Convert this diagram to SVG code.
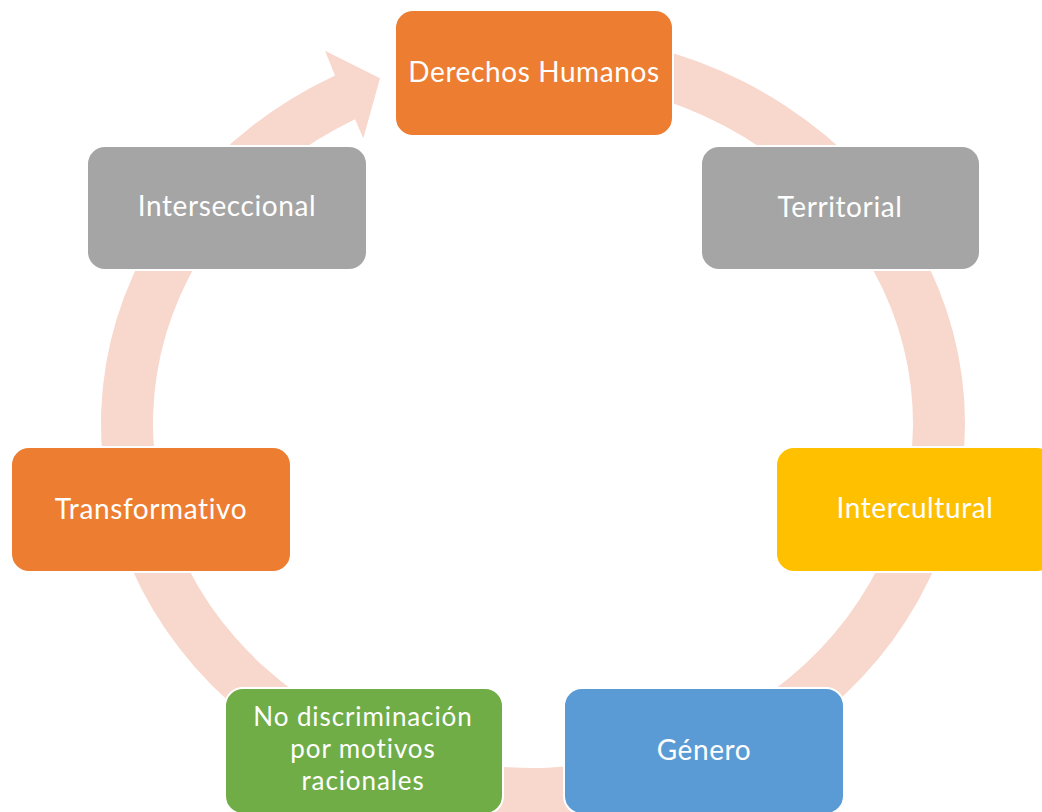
<svg xmlns="http://www.w3.org/2000/svg" width="1042" height="812" viewBox="0 0 1042 812">
<style>
.box{stroke:#ffffff;stroke-width:2}
.t{font-family:Lato,"Open Sans","Liberation Sans",sans-serif;font-size:28px;letter-spacing:0.6px;fill:#ffffff;text-anchor:middle}
.s{font-size:26px;letter-spacing:0.9px}
</style>
<rect x="0" y="0" width="1042" height="812" fill="#ffffff"/>
<g id="connectors">
<path fill="#F8D7CC" d="M600 36.74 A432 391.5 0 1 1 335 75.54 L325 50.7 L380 78.3 L363.3 138.3 L355 119.13 A380 344.5 0 1 0 600 84.4 Z"/>
</g>
<g id="n1"><rect class="box" x="395" y="10" width="278" height="126" rx="18" fill="#ED7D31"/><text class="t" x="534" y="82">Derechos Humanos</text></g>
<g id="n2"><rect class="box" x="701" y="146" width="279" height="124" rx="18" fill="#A5A5A5"/><text class="t" x="840" y="217">Territorial</text></g>
<g id="n3"><rect class="box" x="776" y="447" width="279" height="125" rx="18" fill="#FFC000"/><text class="t" x="915" y="518">Intercultural</text></g>
<g id="n4"><rect class="box" x="564" y="688" width="280" height="126" rx="18" fill="#5B9BD5"/><text class="t" x="704" y="760">Género</text></g>
<g id="n5"><rect class="box" x="225" y="688" width="278" height="126" rx="18" fill="#70AD47"/><text class="t s" x="363" y="726">No discriminación</text><text class="t s" x="363" y="758">por motivos</text><text class="t s" x="363" y="790">racionales</text></g>
<g id="n6"><rect class="box" x="11" y="447" width="280" height="125" rx="18" fill="#ED7D31"/><text class="t" x="151" y="519">Transformativo</text></g>
<g id="n7"><rect class="box" x="87" y="146" width="280" height="124" rx="18" fill="#A5A5A5"/><text class="t" x="227" y="216">Interseccional</text></g>
</svg>
